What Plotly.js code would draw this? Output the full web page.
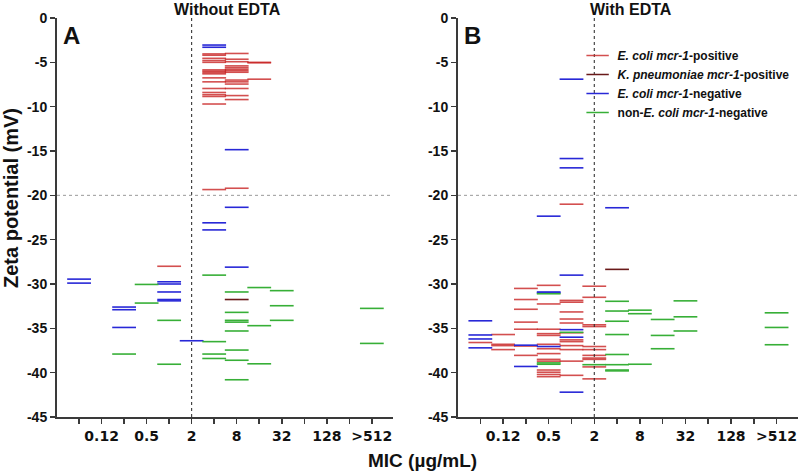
<!DOCTYPE html>
<html>
<head>
<meta charset="utf-8">
<script src="https://cdn.plot.ly/plotly-3.0.1.min.js"></script>
<style>html,body{margin:0;padding:0;background:#fff;} #plot{width:800px;height:473px;}</style>
</head>
<body>
<div id="plot"></div>
<script>
// MIC categories (µg/mL), in axis order
const micCategories = ['0.06','0.12','0.25','0.5','1','2','4','8','16','32','64','128','256','>512'];
const micTickText   = ['', '0.12', '', '0.5', '', '2', '', '8', '', '32', '', '128', '', '>512'];
const zetaTicks = [0,-5,-10,-15,-20,-25,-30,-35,-40,-45];

// ---------- Panel A: Without EDTA ----------
const A_ecoliPos_mic  = ['1',
  '4','4','4','4','4','4','4','4','4','4','4','4','4','4','4','4','4',
  '8','8','8','8','8','8','8','8','8','8','8','8','8','8','8',
  '16','16','16'];
const A_ecoliPos_zeta = [-28.0,
  -4.05,-4.2,-4.55,-4.8,-5.0,-5.85,-6.0,-6.15,-6.3,-6.75,-7.2,-7.95,-8.4,-8.65,-8.85,-9.7,-19.35,
  -4.0,-4.65,-4.93,-5.4,-5.6,-5.78,-5.95,-6.12,-7.0,-7.2,-7.45,-7.95,-8.75,-9.2,-19.2,
  -5.0,-5.05,-6.9];

const A_kpnPos_mic  = ['8'];
const A_kpnPos_zeta = [-31.75];

const A_ecoliNeg_mic  = ['0.06','0.06','0.25','0.25','0.25','1','1','1','1','1','2','4','4','4','4','8','8','8'];
const A_ecoliNeg_zeta = [-29.45,-29.9,-32.6,-32.9,-34.9,-29.75,-30.0,-30.9,-31.75,-31.9,-36.4,-3.05,-3.3,-23.1,-23.9,-14.85,-21.35,-28.1];

const A_otherNeg_mic  = ['0.25','0.5','0.5','1','1','4','4','4','4',
  '8','8','8','8','8','8','8','8','16','16','16','32','32','32','>512','>512'];
const A_otherNeg_zeta = [-37.9,-30.05,-32.15,-34.1,-39.05,-29.0,-36.5,-37.9,-38.4,
  -30.9,-33.2,-34.1,-34.3,-35.3,-37.45,-38.6,-40.8,-30.4,-34.7,-39.0,-30.75,-32.45,-34.1,-32.75,-36.7];

// ---------- Panel B: With EDTA ----------
const B_ecoliPos_mic  = ['0.06',
  '0.12','0.12','0.12','0.12',
  '0.25','0.25','0.25','0.25','0.25','0.25','0.25',
  '0.5','0.5','0.5','0.5','0.5','0.5','0.5','0.5','0.5','0.5','0.5','0.5','0.5','0.5',
  '1','1','1','1','1','1','1','1','1','1','1','1','1',
  '2','2','2','2','2','2','2','2','2','2','2'];
const B_ecoliPos_zeta = [-36.6,
  -35.7,-36.8,-36.95,-37.4,
  -30.5,-31.75,-32.85,-34.3,-35.1,-37.0,-38.05,
  -30.15,-32.25,-35.1,-35.6,-35.8,-36.8,-37.3,-37.85,-38.5,-38.7,-39.7,-39.95,-40.2,-40.45,
  -21.0,-31.85,-32.05,-33.15,-33.95,-34.4,-35.5,-36.3,-36.5,-36.95,-37.4,-38.7,-40.3,
  -30.25,-31.5,-34.6,-34.8,-37.05,-37.4,-38.05,-38.35,-38.5,-39.35,-40.7];

const B_kpnPos_mic  = ['4'];
const B_kpnPos_zeta = [-28.35];

const B_ecoliNeg_mic  = ['0.06','0.06','0.06','0.06','0.25','0.25','0.5','0.5','0.5','0.5',
  '1','1','1','1','1','1','1','4'];
const B_ecoliNeg_zeta = [-34.15,-35.75,-36.2,-37.2,-36.9,-39.3,-22.35,-30.9,-31.0,-37.05,
  -6.9,-15.85,-16.9,-29.0,-35.15,-36.0,-42.2,-21.4];

const B_otherNeg_mic  = ['0.5','0.5','0.5','1','2',
  '4','4','4','4','4','4','4','4','8','8','8','16','16','16','32','32','32','>512','>512','>512'];
const B_otherNeg_zeta = [-31.1,-38.9,-39.05,-35.45,-39.1,
  -31.95,-33.05,-34.2,-35.7,-37.95,-39.1,-39.7,-39.8,-32.95,-33.35,-39.05,-34.0,-35.8,-37.3,-31.9,-33.7,-35.3,-33.25,-34.9,-36.85];

// ---------- styles ----------
const groupNames = [
  '<b><i>E. coli mcr-1</i>-positive</b>',
  '<b><i>K. pneumoniae mcr-1</i>-positive</b>',
  '<b><i>E. coli mcr-1</i>-negative</b>',
  '<b>non-<i>E. coli mcr-1</i>-negative</b>'
];
const groupColors = ['rgba(200,35,35,0.8)','rgb(105,25,25)','rgb(40,40,215)','rgb(55,175,55)'];

const toIdx = arr => arr.map(m => micCategories.indexOf(m));
const bold = arr => arr.map(t => t === '' ? '' : '<b>' + t + '</b>');

function dashTrace(mic, zeta, g, xa, ya, showLegend) {
  return {
    type: 'scatter', mode: 'markers',
    x: toIdx(mic), y: zeta,
    xaxis: xa, yaxis: ya,
    name: groupNames[g], legendgroup: 'g' + g, showlegend: showLegend,
    marker: { symbol: 'line-ew', size: 17, color: groupColors[g],
              line: { color: groupColors[g], width: 1.6 } },
    hoverinfo: 'x+y'
  };
}

const data = [
  dashTrace(A_ecoliPos_mic, A_ecoliPos_zeta, 0, 'x', 'y', false),
  dashTrace(A_kpnPos_mic, A_kpnPos_zeta, 1, 'x', 'y', false),
  dashTrace(A_ecoliNeg_mic, A_ecoliNeg_zeta, 2, 'x', 'y', false),
  dashTrace(A_otherNeg_mic, A_otherNeg_zeta, 3, 'x', 'y', false),
  dashTrace(B_ecoliPos_mic, B_ecoliPos_zeta, 0, 'x2', 'y2', true),
  dashTrace(B_kpnPos_mic, B_kpnPos_zeta, 1, 'x2', 'y2', true),
  dashTrace(B_ecoliNeg_mic, B_ecoliNeg_zeta, 2, 'x2', 'y2', true),
  dashTrace(B_otherNeg_mic, B_otherNeg_zeta, 3, 'x2', 'y2', true)
];

const W = 800, H = 473;
const yDom = [1 - 417/H, 1 - 18/H];
const xRange = [-0.98, 13.94];
const yRange = [-45, 0];
const axisColor = '#3a3a3a';
const tickIdx = micCategories.map((c, i) => i);

function xAxis(domain, anchor) {
  return {
    domain: domain, anchor: anchor, range: xRange, type: 'linear',
    tickmode: 'array', tickvals: tickIdx, ticktext: bold(micTickText),
    ticks: 'outside', ticklen: 5, tickwidth: 1.5, tickcolor: axisColor,
    showline: true, linecolor: axisColor, linewidth: 2,
    showgrid: false, zeroline: false,
    tickfont: { family: 'DejaVu Sans, sans-serif', size: 14, color: '#111' }
  };
}
function yAxis(domain, anchor) {
  return {
    domain: domain, anchor: anchor, range: yRange,
    tickmode: 'array', tickvals: zetaTicks, ticktext: bold(zetaTicks.map(String)),
    ticks: 'outside', ticklen: 5, tickwidth: 1.5, tickcolor: axisColor,
    showline: true, linecolor: axisColor, linewidth: 2,
    showgrid: false, zeroline: false,
    tickfont: { family: 'Liberation Sans, Arial, sans-serif', size: 14, color: '#111' }
  };
}
function topAxis(over, anchor) {
  return {
    overlaying: over, side: 'top', anchor: anchor, range: xRange,
    tickmode: 'array', tickvals: tickIdx, showticklabels: false,
    ticks: 'inside', ticklen: 4, tickwidth: 1.2, tickcolor: axisColor,
    showline: true, linecolor: axisColor, linewidth: 2, showgrid: false, zeroline: false
  };
}
function rightAxis(over, anchor) {
  return {
    overlaying: over, side: 'right', anchor: anchor, range: yRange,
    tickmode: 'array', tickvals: zetaTicks, showticklabels: false,
    ticks: 'inside', ticklen: 4, tickwidth: 1.2, tickcolor: axisColor,
    showline: true, linecolor: axisColor, linewidth: 2, showgrid: false, zeroline: false
  };
}

const domA = [57/W, 393/W];
const domB = [458/W, 798/W];
const idx2 = micCategories.indexOf('2');

const layout = {
  width: W, height: H,
  margin: { l: 0, r: 0, t: 0, b: 0 },
  paper_bgcolor: '#fff', plot_bgcolor: '#fff',
  font: { family: 'Liberation Sans, Arial, sans-serif', color: '#111' },
  showlegend: true,
  legend: {
    x: 0.722, y: 1 - 41/H, xanchor: 'left', yanchor: 'top',
    bgcolor: 'rgba(0,0,0,0)', borderwidth: 0,
    font: { family: 'Liberation Sans, Arial, sans-serif', size: 12, color: '#111' },
    tracegroupgap: 0, itemwidth: 30
  },
  xaxis: xAxis(domA, 'y'),
  yaxis: yAxis(yDom, 'x'),
  xaxis2: xAxis(domB, 'y2'),
  yaxis2: yAxis(yDom, 'x2'),
  xaxis3: topAxis('x', 'y'),
  yaxis3: rightAxis('y', 'x'),
  xaxis4: topAxis('x2', 'y2'),
  yaxis4: rightAxis('y2', 'x2'),
  shapes: [
    { type: 'line', xref: 'x', yref: 'y', x0: idx2, x1: idx2, y0: -45, y1: 0,
      line: { color: '#222', width: 1, dash: 'dot' } },
    { type: 'line', xref: 'x2', yref: 'y2', x0: idx2, x1: idx2, y0: -45, y1: 0,
      line: { color: '#222', width: 1, dash: 'dot' } },
    { type: 'line', xref: 'x domain', yref: 'y', x0: 0, x1: 1, y0: -20, y1: -20,
      line: { color: '#999', width: 1, dash: 'dot' } },
    { type: 'line', xref: 'x2 domain', yref: 'y2', x0: 0, x1: 1, y0: -20, y1: -20,
      line: { color: '#999', width: 1, dash: 'dot' } }
  ],
  annotations: [
    { text: '<b>Without EDTA</b>', xref: 'paper', yref: 'paper', x: 227/W, y: 1,
      xanchor: 'center', yanchor: 'top', borderpad: 0, showarrow: false, font: { size: 16 } },
    { text: '<b>With EDTA</b>', xref: 'paper', yref: 'paper', x: 631/W, y: 1,
      xanchor: 'center', yanchor: 'top', borderpad: 0, showarrow: false, font: { size: 16 } },
    { text: '<b>A</b>', xref: 'paper', yref: 'paper', x: 61/W, y: 1 - 36/H,
      xanchor: 'left', yanchor: 'middle', showarrow: false, font: { size: 24 } },
    { text: '<b>B</b>', xref: 'paper', yref: 'paper', x: 462/W, y: 1 - 36/H,
      xanchor: 'left', yanchor: 'middle', showarrow: false, font: { size: 24 } },
    { text: '<b>Zeta potential (mV)</b>', xref: 'paper', yref: 'paper', x: 11/W, y: 1 - 198/H,
      xanchor: 'center', yanchor: 'middle', textangle: -90, showarrow: false, font: { size: 20 } },
    { text: '<b>MIC (µg/mL)</b>', xref: 'paper', yref: 'paper', x: 422/W, y: 1 - 460/H,
      xanchor: 'center', yanchor: 'middle', showarrow: false, font: { size: 19 } }
  ]
};

Plotly.newPlot('plot', data, layout, { displayModeBar: false, staticPlot: true });
</script>
</body>
</html>
